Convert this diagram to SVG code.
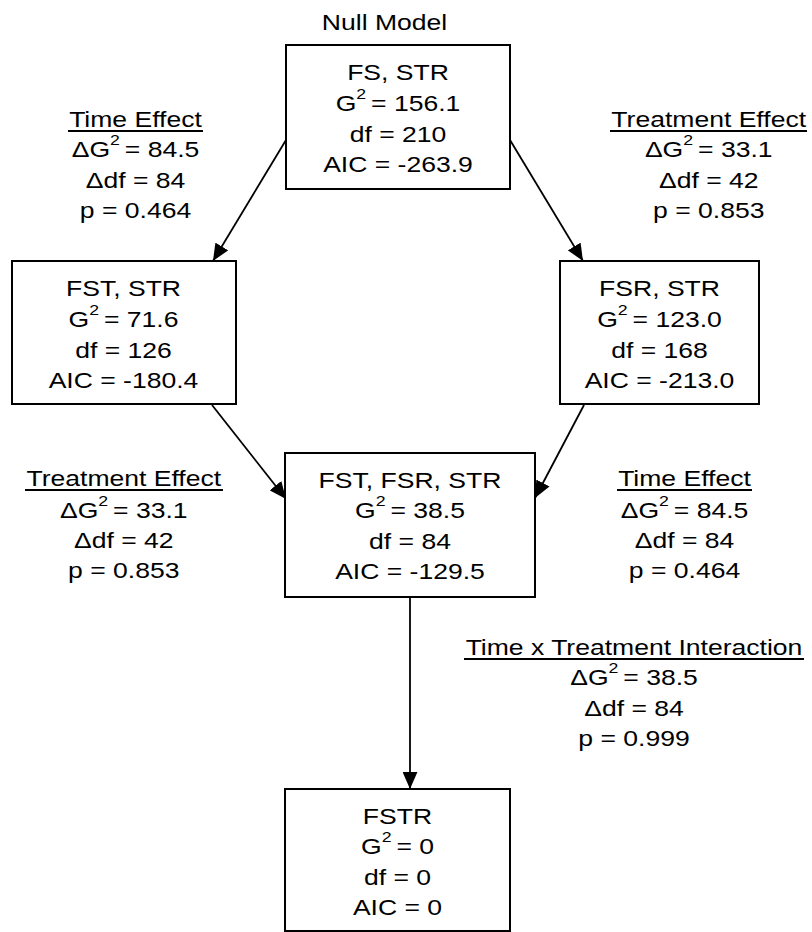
<svg xmlns="http://www.w3.org/2000/svg" width="812" height="932" viewBox="0 0 812 932">
<style>
text{font-family:"Liberation Sans",Arial,sans-serif;font-size:22.5px;fill:#000;text-anchor:middle}
.s{font-size:15px}
.box{fill:#fff;stroke:#000;stroke-width:2}
.ul{stroke:#000;stroke-width:2}
.conn line{stroke:#000;stroke-width:1.8;fill:none}
</style>
<defs>
<marker id="ah" markerUnits="userSpaceOnUse" markerWidth="17" markerHeight="15" viewBox="0 0 16 14" refX="16" refY="7" orient="auto">
<path d="M0,0 L16,7 L0,14 z" fill="#000"/>
</marker>
</defs>
<rect width="812" height="932" fill="#fff"/>

<g class="conn" id="connectors">
<line x1="286" y1="140" x2="213" y2="261" marker-end="url(#ah)"/>
<line x1="510" y1="140" x2="583" y2="261" marker-end="url(#ah)"/>
<line x1="212" y1="405" x2="286" y2="499" marker-end="url(#ah)"/>
<line x1="584" y1="405" x2="535" y2="498" marker-end="url(#ah)"/>
<line x1="410" y1="597" x2="410" y2="789" marker-end="url(#ah)"/>
</g>

<g id="null-model">
<text transform="translate(384.5,30) scale(1.18,1)">Null Model</text>
<rect class="box" x="286" y="45" width="224" height="144"/>
<text transform="translate(398,80) scale(1.18,1)">FS, STR</text>
<text transform="translate(398,111) scale(1.18,1)">G<tspan class="s" dy="-12">2 </tspan><tspan dy="12">= 156.1</tspan></text>
<text transform="translate(398,142) scale(1.18,1)">df = 210</text>
<text transform="translate(398,172) scale(1.18,1)">AIC = -263.9</text>
</g>

<g id="fst-str">
<rect class="box" x="12" y="261" width="224" height="143"/>
<text transform="translate(123.5,296) scale(1.18,1)">FST, STR</text>
<text transform="translate(123.5,327) scale(1.18,1)">G<tspan class="s" dy="-12">2 </tspan><tspan dy="12">= 71.6</tspan></text>
<text transform="translate(123.5,358) scale(1.18,1)">df = 126</text>
<text transform="translate(123.5,388) scale(1.18,1)">AIC = -180.4</text>
</g>

<g id="fsr-str">
<rect class="box" x="560" y="261" width="199" height="143"/>
<text transform="translate(659.5,296) scale(1.18,1)">FSR, STR</text>
<text transform="translate(659.5,327) scale(1.18,1)">G<tspan class="s" dy="-12">2 </tspan><tspan dy="12">= 123.0</tspan></text>
<text transform="translate(659.5,358) scale(1.18,1)">df = 168</text>
<text transform="translate(659.5,388) scale(1.18,1)">AIC = -213.0</text>
</g>

<g id="fst-fsr-str">
<rect class="box" x="285" y="453" width="250" height="144"/>
<text transform="translate(410,488) scale(1.18,1)">FST, FSR, STR</text>
<text transform="translate(410,518) scale(1.18,1)">G<tspan class="s" dy="-12">2 </tspan><tspan dy="12">= 38.5</tspan></text>
<text transform="translate(410,549) scale(1.18,1)">df = 84</text>
<text transform="translate(410,579) scale(1.18,1)">AIC = -129.5</text>
</g>

<g id="fstr">
<rect class="box" x="285" y="789" width="225" height="142"/>
<text transform="translate(397.5,824) scale(1.18,1)">FSTR</text>
<text transform="translate(397.5,854) scale(1.18,1)">G<tspan class="s" dy="-12">2 </tspan><tspan dy="12">= 0</tspan></text>
<text transform="translate(397.5,885) scale(1.18,1)">df = 0</text>
<text transform="translate(397.5,915) scale(1.18,1)">AIC = 0</text>
</g>

<g id="label-time-top">
<text transform="translate(135.5,126.5) scale(1.18,1)">Time Effect</text>
<line class="ul" x1="68" y1="131" x2="203" y2="131"/>
<text transform="translate(135.5,157) scale(1.18,1)">ΔG<tspan class="s" dy="-12">2 </tspan><tspan dy="12">= 84.5</tspan></text>
<text transform="translate(135.5,187.5) scale(1.18,1)">Δdf = 84</text>
<text transform="translate(135.5,218) scale(1.18,1)">p = 0.464</text>
</g>

<g id="label-treatment-top">
<text transform="translate(708.7,126.5) scale(1.18,1)">Treatment Effect</text>
<line class="ul" x1="610" y1="131" x2="807" y2="131"/>
<text transform="translate(708.7,157) scale(1.18,1)">ΔG<tspan class="s" dy="-12">2 </tspan><tspan dy="12">= 33.1</tspan></text>
<text transform="translate(708.7,187.5) scale(1.18,1)">Δdf = 42</text>
<text transform="translate(708.7,218) scale(1.18,1)">p = 0.853</text>
</g>

<g id="label-treatment-bottom">
<text transform="translate(123.8,486) scale(1.18,1)">Treatment Effect</text>
<line class="ul" x1="25" y1="490" x2="223" y2="490"/>
<text transform="translate(123.8,518) scale(1.18,1)">ΔG<tspan class="s" dy="-12">2 </tspan><tspan dy="12">= 33.1</tspan></text>
<text transform="translate(123.8,548) scale(1.18,1)">Δdf = 42</text>
<text transform="translate(123.8,578) scale(1.18,1)">p = 0.853</text>
</g>

<g id="label-time-bottom">
<text transform="translate(684.5,486) scale(1.18,1)">Time Effect</text>
<line class="ul" x1="617" y1="490" x2="752" y2="490"/>
<text transform="translate(684.5,518) scale(1.18,1)">ΔG<tspan class="s" dy="-12">2 </tspan><tspan dy="12">= 84.5</tspan></text>
<text transform="translate(684.5,548) scale(1.18,1)">Δdf = 84</text>
<text transform="translate(684.5,578) scale(1.18,1)">p = 0.464</text>
</g>

<g id="label-interaction">
<text transform="translate(634,655) scale(1.18,1)">Time x Treatment Interaction</text>
<line class="ul" x1="464" y1="659" x2="804" y2="659"/>
<text transform="translate(634,685) scale(1.18,1)">ΔG<tspan class="s" dy="-12">2 </tspan><tspan dy="12">= 38.5</tspan></text>
<text transform="translate(634,715.5) scale(1.18,1)">Δdf = 84</text>
<text transform="translate(634,746) scale(1.18,1)">p = 0.999</text>
</g>
</svg>
